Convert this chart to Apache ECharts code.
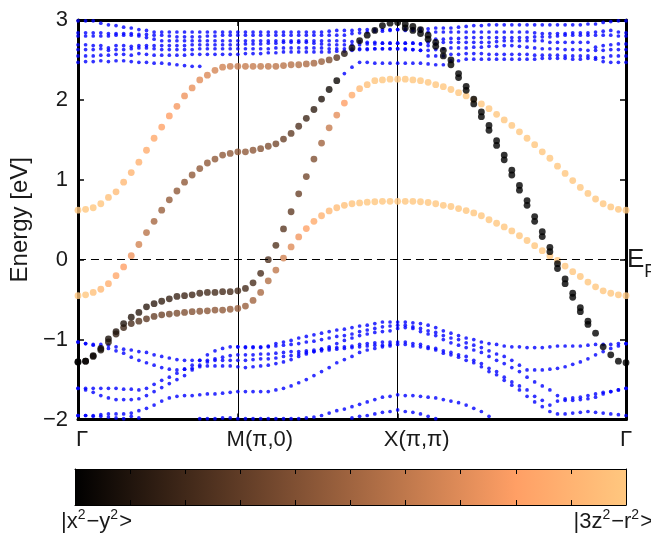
<!DOCTYPE html>
<html><head><meta charset="utf-8">
<script src="https://cdn.jsdelivr.net/npm/echarts@6.0.0/dist/echarts.min.js"></script>
<style>html,body{margin:0;padding:0;background:#fff}#c{width:651px;height:538px}</style>
</head><body><div id="c"></div>
<script>
const _ = null;
// k-path sample points (73), high-symmetry ticks
const kTickIdx = [0, 21, 42, 72];
const kTickLabels = ['Γ', 'M(π,0)', 'X(π,π)', 'Γ'];
const kCount = 73;
const energyTicks = [-2, -1, 0, 1, 2, 3];
const barLabels = ['|x²−y²>', '|3z²−r²>'];
const copper = ['#000000', '#402819', '#805033', '#BF784C', '#FF9F65', '#FFC77F'];

// ---- blue (other orbital) bands, upper group ----
const topA = [2.99,2.99,2.99,2.96,2.94,2.93,2.91,2.90,2.88,2.87,2.85,2.85,2.85,2.85,2.85,2.85,2.85,2.85,2.85,2.85,2.85,2.85,
 2.85,2.85,2.85,2.85,2.85,2.85,2.85,2.85,2.85,2.85,2.85,2.86,2.87,2.87,2.87,2.88,2.88,2.88,2.88,2.88,
 2.88,
 2.89,2.89,2.89,2.89,2.90,2.90,2.90,2.91,2.92,2.93,2.93,2.94,2.94,2.94,2.94,2.94,2.94,2.94,2.94,2.94,2.94,2.94,2.94,2.94,2.95,2.95,2.97,2.98,2.99,2.99];
const topB = [2.84,2.84,2.84,2.84,2.83,2.83,2.83,2.83,2.82,2.82,2.81,2.81,2.80,2.79,2.79,2.79,2.79,2.80,2.80,2.81,2.81,2.81,
 2.81,2.81,2.81,2.81,2.81,2.81,2.81,2.81,2.81,2.81,2.81,2.81,2.81,2.81,2.83,2.84,2.85,2.86,2.86,2.87,
 2.88,
 2.87,2.87,2.86,2.85,2.85,2.85,2.85,2.85,2.85,2.85,2.85,2.85,2.85,2.85,2.85,2.85,2.85,2.84,2.83,2.83,2.83,2.83,2.84,2.84,2.84,2.85,2.86,2.87,2.85,2.84];
const topC = [2.80,2.80,2.80,2.80,2.80,2.81,2.81,2.81,2.80,2.78,2.76,2.74,2.74,2.74,2.74,2.74,2.74,2.74,2.74,2.74,2.74,2.74,
 2.74,2.74,2.74,2.74,2.74,2.74,2.74,2.74,2.74,2.74,2.74,2.74,2.74,2.74,2.73,2.73,2.72,2.72,2.71,2.71,
 2.71,
 2.71,2.71,2.70,2.72,2.76,2.76,2.77,2.77,2.78,2.78,2.78,2.78,2.78,2.78,2.78,2.78,2.78,2.79,2.79,2.79,2.80,2.81,2.81,2.81,2.81,2.81,2.81,2.81,2.80,2.80];
const topD = [2.69,2.69,2.68,2.68,2.65,2.68,2.68,2.67,2.68,2.68,2.68,2.68,2.68,2.68,2.68,2.69,2.69,2.69,2.69,2.69,2.69,2.69,
 2.70,2.70,2.70,2.71,2.71,2.72,2.72,2.72,2.72,2.71,2.70,2.69,2.69,2.69,2.69,2.69,2.70,2.70,2.71,2.71,
 2.71,
 2.71,2.71,2.70,2.68,2.70,2.72,2.72,2.72,2.72,2.72,2.72,2.72,2.73,2.74,2.74,2.74,2.74,2.74,2.74,2.72,2.72,2.72,2.72,2.72,2.72,2.66,2.68,2.69,2.70,2.70];
const topE = [2.63,2.63,2.63,2.64,2.62,2.63,2.63,2.64,2.65,2.65,2.64,2.63,2.63,2.63,2.63,2.63,2.64,2.64,2.64,2.64,2.64,2.64,
 2.64,2.64,2.64,2.64,2.65,2.65,2.65,2.65,2.65,2.65,2.65,2.64,2.64,2.64,2.64,2.64,2.64,2.64,2.64,2.64,
 2.64,
 2.63,2.63,2.62,2.62,2.63,2.64,2.65,2.65,2.65,2.66,2.66,2.67,2.67,2.68,2.68,2.67,2.66,2.65,2.64,2.64,2.64,2.63,2.63,2.63,2.62,2.62,2.62,2.63,2.63,2.63];
const topF = [2.55,2.55,2.55,2.56,2.56,2.57,2.57,2.56,2.58,2.57,2.56,2.56,2.56,2.56,2.56,2.57,2.57,2.57,2.57,2.57,2.57,2.57,
 2.58,2.58,2.58,2.59,2.59,2.60,2.60,2.60,2.60,2.60,2.60,2.60,2.61,2.61,2.62,2.63,2.63,2.64,2.64,2.64,
 2.64,
 2.64,2.63,2.62,2.55,2.55,2.55,2.57,2.57,2.58,2.58,2.58,2.57,2.57,2.57,2.57,2.57,2.57,2.56,2.56,2.56,2.56,2.55,2.55,2.55,2.55,2.53,2.53,2.55,2.55,2.55];
const topG = [2.47,2.48,2.48,2.49,2.48,2.49,2.49,2.48,2.47,2.47,2.46,2.46,2.45,2.44,2.43,2.42,2.42,
 _,_,_,_,_,_,_,_,_,_,_,_,_,_,_,_,_,_,
 2.33,2.41,2.47,2.47,2.46,2.46,2.46,
 2.46,
 2.46,2.46,2.46,2.45,2.44,2.44,2.49,2.49,2.51,2.51,2.51,2.51,2.51,2.51,2.51,2.51,2.51,2.51,2.52,2.52,2.52,2.52,2.51,2.51,2.52,2.51,2.48,2.47,2.47,2.47];

// ---- blue bands, lower group ----
const lowA = [-1.03,-1.05,-1.06,-1.06,-1.07,-1.09,-1.12,-1.13,-1.15,-1.16,-1.19,-1.21,-1.23,-1.25,-1.26,-1.26,-1.26,-1.26,-1.26,-1.26,-1.26,
 -1.26,-1.26,-1.25,-1.24,-1.24,-1.23,-1.21,-1.20,-1.18,-1.16,-1.15,-1.14,-1.13,-1.12,-1.11,-1.10,-1.09,-1.08,-1.07,-1.07,-1.06,
 -1.06,-1.06,-1.08,-1.09,-1.11,-1.13,-1.17,-1.19,-1.22,-1.26,-1.29,-1.34,-1.40,-1.44,-1.51,-1.57,-1.63,-1.71,-1.78,-1.84,-1.90,-1.93,-1.93,-1.92,-1.91,-1.90,-1.91,-1.92,-1.93,-1.94,-1.95];
const lowB = [-1.03,-1.05,-1.07,-1.09,-1.11,-1.14,-1.17,-1.22,-1.26,-1.29,-1.32,-1.35,-1.37,-1.38,-1.37,-1.36,-1.34,-1.33,-1.33,-1.33,-1.33,
 -1.34,-1.35,-1.34,-1.33,-1.32,-1.30,-1.28,-1.25,-1.21,-1.18,-1.15,-1.12,-1.09,-1.05,-1.01,-0.98,-0.95,-0.93,-0.91,-0.90,-0.89,
 -0.86,-0.85,-0.86,-0.90,-0.93,-0.95,-1.00,-1.04,-1.07,-1.10,-1.13,-1.16,-1.21,-1.26,-1.30,-1.35,-1.40,-1.47,-1.53,-1.58,-1.63,-1.70,-1.74,-1.73,-1.72,-1.70,-1.68,-1.66,-1.65,-1.63,-1.61];
const lowC = [-1.61,-1.61,-1.61,-1.61,-1.61,-1.61,-1.62,-1.62,-1.63,-1.61,-1.56,-1.51,-1.47,-1.42,-1.37,-1.32,-1.26,-1.19,-1.14,-1.11,-1.09,
 -1.09,-1.09,-1.09,-1.09,-1.08,-1.05,-1.03,-1.01,-0.98,-0.96,-0.94,-0.92,-0.90,-0.88,-0.87,-0.85,-0.83,-0.82,-0.80,-0.78,-0.78,
 -0.78,-0.78,-0.79,-0.80,-0.82,-0.85,-0.89,-0.92,-0.95,-0.98,-1.00,-1.03,-1.05,-1.06,-1.08,-1.09,-1.09,-1.10,-1.10,-1.10,-1.09,-1.08,-1.08,-1.08,-1.08,-1.07,-1.06,-1.06,-1.06,-1.05,-1.05];
const lowD = [-1.61,-1.63,-1.66,-1.70,-1.73,-1.75,-1.75,-1.75,-1.74,-1.70,-1.65,-1.60,-1.55,-1.50,-1.45,-1.38,-1.32,-1.28,-1.24,-1.22,-1.20,
 -1.19,-1.19,-1.19,-1.18,-1.18,-1.17,-1.16,-1.15,-1.15,-1.14,-1.13,-1.12,-1.11,-1.10,-1.09,-1.08,-1.06,-1.05,-1.04,-1.03,-1.03,
 -1.03,-1.03,-1.05,-1.06,-1.09,-1.11,-1.14,-1.16,-1.19,-1.21,-1.26,-1.30,-1.36,-1.40,-1.47,-1.53,-1.58,-1.63,-1.71,-1.76,-1.82,-1.77,-1.76,-1.76,-1.75,-1.74,-1.72,-1.68,-1.65,-1.63,-1.61];
const lowE = [-1.95,-1.95,-1.95,-1.94,-1.93,-1.93,-1.93,-1.92,-1.89,-1.86,-1.82,-1.77,-1.73,-1.71,-1.70,-1.70,-1.69,-1.68,-1.68,-1.67,-1.66,
 -1.65,-1.65,-1.65,-1.65,-1.65,-1.63,-1.61,-1.58,-1.54,-1.50,-1.45,-1.40,-1.35,-1.29,-1.25,-1.21,-1.16,-1.13,-1.11,-1.09,-1.08,
 _,_,_,_,_,_,_,_,_,_,_,_,_,_,_,_,_,_,_,_,_,_,_,_,_,_,_,_,_,_,_];
const lowF = [-1.95,-1.95,-1.96,-1.96,-1.97,-1.98,-1.99,-1.96,-1.98,-2.01,_,_,_,_,_,_,-1.99,-1.99,-1.99,-1.98,-1.98,
 -1.99,-1.99,-1.99,-1.99,-1.99,-1.99,-1.99,-1.99,-1.99,-1.98,-1.97,-1.95,-1.92,-1.89,-1.87,-1.84,-1.81,-1.78,-1.75,-1.72,-1.71,
 -1.69,-1.70,-1.70,-1.71,-1.72,-1.73,-1.75,-1.77,-1.79,-1.82,-1.86,-1.90,-1.96,-2.01,_,_,_,_,_,_,_,_,_,_,_,_,_,_,_,_,_];
const lowG = [_,_,_,_,_,_,_,_,_,_,_,_,_,_,_,_,_,_,_,_,_,
 -1.09,-1.10,-1.10,-1.10,-1.09,-1.08,-1.07,-1.06,-1.05,-1.03,-1.02,-1.00,-0.98,-0.96,-0.95,-0.93,-0.90,-0.88,-0.86,-0.84,-0.83,
 -0.82,-0.82,-0.84,-0.86,-0.89,-0.91,-0.95,-0.98,-1.00,-1.04,-1.07,-1.10,-1.14,-1.18,-1.21,-1.26,-1.32,-1.38,-1.38,-1.38,-1.37,-1.36,-1.34,-1.31,-1.28,-1.24,-1.19,-1.15,-1.11,-1.08,-1.05];
const lowH = [_,_,_,_,_,_,_,_,_,_,_,_,_,_,_,_,_,_,_,_,_,
 _,_,_,_,_,_,_,_,_,_,_,_,_,_,_,-1.98,-1.96,-1.95,-1.93,-1.91,-1.90,
 -1.88,-1.90,-1.91,-1.93,-1.96,-1.99,_,_,_,_,_,_,_,_,_,_,_,_,_,_,_,_,_,_,_,_,_,_,_,_,_];

// ---- eg bands with orbital weight (0 = |x2-y2>, 1 = |3z2-r2>) ----
const egBand1 = [0.62,0.63,0.65,0.70,0.78,0.85,0.97,1.09,1.22,1.37,1.52,1.66,1.80,1.92,2.05,2.15,2.25,2.31,2.37,2.41,2.42,2.42,
 2.42,2.42,2.42,2.42,2.42,2.43,2.44,2.44,2.45,2.46,2.48,2.50,2.53,
 2.58,2.65,2.74,2.81,2.87,2.93,2.96,2.97,
 2.95,2.92,2.88,2.81,2.72,2.62,2.50,2.33,2.17,2.01,1.85,1.68,1.49,1.31,1.12,0.93,0.74,0.54,0.35,0.155,-0.05,-0.24,-0.42,-0.60,-0.77,-0.92,-1.09,-1.19,-1.27,-1.29];
const egW1 = [1,1,1,0.99,0.97,0.95,0.93,0.91,0.89,0.87,0.85,0.82,0.8,0.77,0.75,0.73,0.71,0.69,0.67,0.65,0.63,0.62,
 0.62,0.62,0.61,0.6,0.59,0.58,0.57,0.56,0.54,0.52,0.48,0.4,0.28,0.12,0.04,0.02,0,0,0,0,0,
 0,0,0,0,0,0,0,0,0,0,0,0,0,0,0,0,0,0,0,0,0,0,0,0,0,0,0,0,0,0];
const egBand2 = [-0.45,-0.44,-0.41,-0.37,-0.30,-0.20,-0.09,0.05,0.19,0.34,0.48,0.62,0.75,0.86,0.97,1.06,1.14,1.21,1.26,1.31,1.33,1.35,
 1.35,1.37,1.39,1.42,1.45,1.51,1.58,1.67,1.77,1.88,2.01,2.13,2.24,
 _,_,_,_,_,_,_,_,_,_,_,_,_,_,_,_,_,_,_,_,_,_,_,_,_,_,_,_,_,_,_,_,_,_,_,_,_,_];
const egW2 = [1,1,0.97,0.93,0.88,0.84,0.8,0.75,0.66,0.58,0.52,0.48,0.46,0.45,0.45,0.45,0.45,0.45,0.45,0.45,0.45,0.45,
 0.45,0.44,0.42,0.4,0.37,0.33,0.3,0.25,0.2,0.15,0.1,0.06,0.03,
 _,_,_,_,_,_,_,_,_,_,_,_,_,_,_,_,_,_,_,_,_,_,_,_,_,_,_,_,_,_,_,_,_,_,_,_,_,_];
const egBand3 = [-1.28,-1.27,-1.20,-1.11,-0.99,-0.90,-0.80,-0.72,-0.66,-0.59,-0.55,-0.52,-0.49,-0.46,-0.45,-0.44,-0.42,-0.41,-0.41,-0.40,-0.40,-0.39,
 -0.36,-0.29,-0.17,0.00,0.18,0.385,0.60,0.825,1.04,1.26,1.46,1.65,1.81,1.96,2.06,2.14,2.19,2.24,2.25,2.26,2.26,
 2.26,2.25,2.24,2.22,2.19,2.165,2.13,2.09,2.05,2.00,1.95,1.89,1.82,1.75,1.68,1.60,1.52,1.44,1.35,1.27,1.17,1.08,0.99,0.905,0.83,0.76,0.70,0.66,0.63,0.62];
const egW3 = [0,0.02,0.04,0.06,0.08,0.1,0.11,0.12,0.13,0.14,0.15,0.16,0.17,0.18,0.19,0.2,0.2,0.21,0.21,0.22,0.22,0.22,
 0.22,0.23,0.23,0.24,0.26,0.28,0.3,0.33,0.36,0.4,0.5,0.62,0.72,0.8,0.87,0.93,0.97,0.99,1,1,1,
 1,1,1,1,1,1,1,1,1,1,1,1,1,1,1,1,1,1,1,1,1,1,1,1,1,1,1,1,1,1];
const egBand4 = [-1.28,-1.27,-1.21,-1.13,-1.03,-0.93,-0.85,-0.80,-0.77,-0.74,-0.71,-0.69,-0.68,-0.67,-0.66,-0.65,-0.645,-0.64,-0.63,-0.63,-0.62,-0.61,
 -0.58,-0.51,-0.41,-0.265,-0.13,0.02,0.16,0.285,0.39,0.48,0.55,0.61,0.65,0.68,0.70,0.71,0.72,0.725,0.73,0.73,0.73,
 0.73,0.73,0.725,0.716,0.70,0.68,0.666,0.64,0.615,0.585,0.55,0.50,0.456,0.41,0.36,0.30,0.24,0.176,0.113,0.046,-0.008,-0.08,-0.15,-0.21,-0.28,-0.34,-0.39,-0.42,-0.44,-0.45];
const egW4 = [0,0.02,0.05,0.08,0.12,0.16,0.2,0.23,0.26,0.29,0.32,0.34,0.36,0.38,0.4,0.41,0.42,0.43,0.44,0.45,0.46,0.47,
 0.48,0.5,0.53,0.56,0.6,0.65,0.7,0.76,0.82,0.86,0.9,0.93,0.95,0.97,0.98,0.99,1,1,1,1,1,
 1,1,1,1,1,1,1,1,1,1,1,1,1,1,1,1,1,1,1,1,1,1,1,1,1,1,1,1,1,1];
// near-degenerate partner of band 1 along X-Γ
const egBand5 = [_,_,_,_,_,_,_,_,_,_,_,_,_,_,_,_,_,_,_,_,_,_,_,_,_,_,_,_,_,_,_,_,_,_,_,_,_,_,_,_,_,_,_,
 2.90,2.87,2.83,2.76,2.67,2.55,2.44,2.28,2.12,1.95,1.79,1.62,1.43,1.25,1.06,0.87,0.68,0.48,0.29,0.10,-0.11,-0.30,-0.47,-0.65,-0.81,
 _,_,_,_,_];

const FONT = "'Liberation Sans', Arial, Helvetica, sans-serif";
const TXT = '#1a1a1a';
const FS = 22;
const kCats = Array.from({length: kCount}, (v, i) => String(i));
const isTick = (i) => kTickIdx.indexOf(i) >= 0;
const isInner = (i) => i === kTickIdx[1] || i === kTickIdx[2];
const labelKeys = ['ga', 'm', 'x', 'gb'];
const supText = (t) => t.replace(/²/g, '{s|2}');

const blueBands = [topA, topB, topC, topD, topE, topF, topG, lowA, lowB, lowC, lowD, lowE, lowF, lowG, lowH];
const egBands = [[egBand4, egW4], [egBand3, egW3], [egBand2, egW2], [egBand1, egW1], [egBand5, egW1]];

const series = [];
blueBands.forEach((b, n) => {
  const s = {
    type: 'scatter', xAxisIndex: 0, yAxisIndex: 0, symbolSize: 3.7, clip: true, silent: true,
    itemStyle: {color: '#0000ff'},
    data: b.map((e, i) => e === null ? null : [i, e]).filter(Boolean)
  };
  if (n === 0) {
    s.markLine = {
      silent: true, symbol: 'none', animation: false,
      lineStyle: {color: '#000', type: [8, 5], width: 1},
      label: {show: true, position: 'end', distance: 1, formatter: '{e|E}{f|F}',
        rich: {e: {fontSize: 26, fontFamily: FONT, color: TXT}, f: {fontSize: 18, fontFamily: FONT, color: TXT, padding: [24, 0, 0, 0]}}},
      data: [{yAxis: 0}]
    };
  }
  series.push(s);
});
const egIdx = [];
egBands.forEach(([b, w]) => {
  egIdx.push(series.length);
  series.push({
    type: 'scatter', xAxisIndex: 0, yAxisIndex: 0, symbolSize: 6.8, clip: true, silent: true,
    data: b.map((e, i) => e === null ? null : [i, e, w[i]]).filter(Boolean)
  });
});
// colour bar
series.push({
  type: 'bar', xAxisIndex: 2, yAxisIndex: 2, data: [1], barWidth: '100%', silent: true, z: 1,
  itemStyle: {color: {type: 'linear', x: 0, y: 0, x2: 1, y2: 0,
    colorStops: copper.map((c, i) => ({offset: i / (copper.length - 1), color: c}))}}
});

const frameLine = {show: true, onZero: false, lineStyle: {color: '#000', width: 3}};
const lab = {fontSize: FS, fontFamily: FONT, color: TXT};
const supRich = {s: {fontSize: 14, fontFamily: FONT, color: TXT, padding: [0, 1, 13, 0]}};
const option = {
  animation: false,
  backgroundColor: '#fff',
  textStyle: {fontFamily: FONT},
  grid: [
    {left: 75, right: 25, top: 20, bottom: 118.5},
    {left: 75, right: 25, top: 469, height: 36}
  ],
  visualMap: {type: 'continuous', show: false, min: 0, max: 1, dimension: 2, seriesIndex: egIdx,
    inRange: {color: copper}},
  xAxis: [
    {type: 'category', gridIndex: 0, data: kCats, boundaryGap: false, position: 'bottom',
     axisLine: frameLine,
     axisTick: {show: true, inside: true, length: 6, interval: (i) => isTick(i), lineStyle: {color: '#000', width: 1.5}},
     axisLabel: {interval: (i) => isTick(i), fontSize: FS, color: TXT, fontFamily: FONT, margin: 9,
       formatter: (v) => { const j = kTickIdx.indexOf(+v); return j < 0 ? '' : '{' + labelKeys[j] + '|' + kTickLabels[j] + '}'; },
       rich: {ga: Object.assign({}, lab, {padding: [0, 0, 0, 8]}),
              gb: Object.assign({}, lab, {padding: [0, 0, 0, 0]}),
              m: Object.assign({}, lab, {padding: [0, 0, 0, 44]}),
              x: Object.assign({}, lab, {padding: [0, 0, 0, 38]})}},
     splitLine: {show: true, interval: (i) => isInner(i), lineStyle: {color: '#000', width: 1}}},
    {type: 'category', gridIndex: 0, data: kCats, boundaryGap: false, position: 'top',
     axisLine: frameLine,
     axisTick: {show: true, inside: true, length: 6, interval: (i) => isInner(i), lineStyle: {color: '#000', width: 1.5}},
     axisLabel: {show: false}, splitLine: {show: false}},
    {type: 'value', gridIndex: 1, min: 0, max: 1, interval: 0.1, position: 'bottom', z: 5,
     axisLine: {show: true, onZero: false, lineStyle: {color: '#000', width: 1}},
     axisTick: {show: true, inside: true, length: 5, lineStyle: {color: '#000', width: 1}},
     axisLabel: {show: false}, splitLine: {show: false}},
    {type: 'value', gridIndex: 1, min: 0, max: 1, interval: 0.1, position: 'top', z: 5,
     axisLine: {show: true, onZero: false, lineStyle: {color: '#000', width: 1}},
     axisTick: {show: true, inside: true, length: 5, lineStyle: {color: '#000', width: 1}},
     axisLabel: {show: false}, splitLine: {show: false}}
  ],
  yAxis: [
    {type: 'value', gridIndex: 0, min: energyTicks[0], max: energyTicks[energyTicks.length - 1], interval: 1,
     axisLine: frameLine,
     axisTick: {show: true, inside: true, length: 6, lineStyle: {color: '#000', width: 1.5}},
     axisLabel: {fontSize: FS, color: TXT, fontFamily: FONT, margin: 10,
       formatter: (v) => String(v).replace('-', '\u2212')},
     splitLine: {show: false},
     name: 'Energy [eV]', nameLocation: 'middle', nameGap: 43,
     nameTextStyle: {fontSize: 24, color: TXT, fontFamily: FONT}},
    {type: 'value', gridIndex: 0, min: energyTicks[0], max: energyTicks[energyTicks.length - 1], interval: 1, position: 'right',
     axisLine: frameLine,
     axisTick: {show: true, inside: true, length: 6, lineStyle: {color: '#000', width: 1.5}},
     axisLabel: {show: false}, splitLine: {show: false}},
    {type: 'category', gridIndex: 1, data: ['c'], z: 5,
     axisLine: {show: true, onZero: false, lineStyle: {color: '#000', width: 1}}, axisTick: {show: false}, axisLabel: {show: false}},
    {type: 'category', gridIndex: 1, data: ['c'], position: 'right', z: 5,
     axisLine: {show: true, onZero: false, lineStyle: {color: '#000', width: 1}}, axisTick: {show: false}, axisLabel: {show: false}}
  ],
  graphic: [
    {type: 'text', left: 61, top: 508, style: {text: supText(barLabels[0]), fontSize: FS, fill: TXT, fontFamily: FONT, rich: supRich}},
    {type: 'text', right: -2, top: 508, style: {text: supText(barLabels[1]), fontSize: FS, fill: TXT, fontFamily: FONT, rich: supRich}}
  ],
  series: series
};
const chart = echarts.init(document.getElementById('c'), null, {renderer: 'canvas'});
chart.setOption(option);
</script></body></html>
